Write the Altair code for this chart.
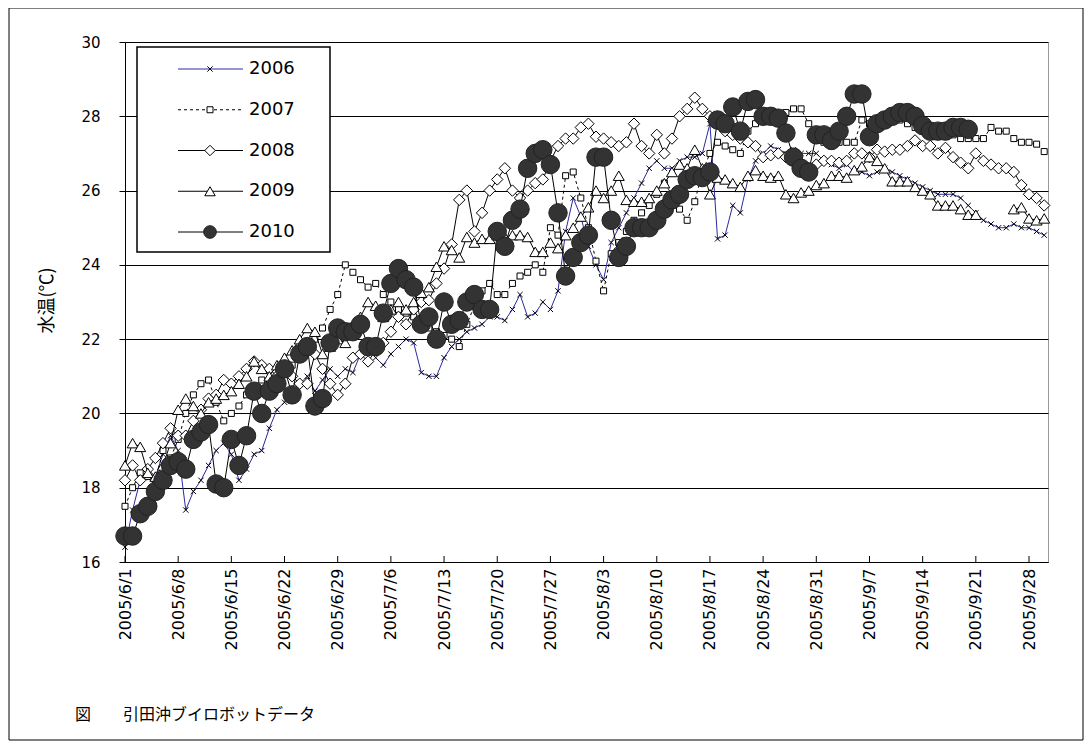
import altair as alt
import pandas as pd

# ---------------- data ----------------
START = "2005-06-01"
N_DAYS = 122
DATES = pd.date_range(START, periods=N_DAYS, freq="D").strftime("%Y-%m-%d").tolist()
TICK_DATES = pd.date_range(START, "2005-09-28", freq="7D").strftime("%Y-%m-%d").tolist()
SERIES_NAMES = ["2006", "2007", "2008", "2009", "2010"]
Y_TICKS = [16, 18, 20, 22, 24, 26, 28, 30]
Y_TITLE = "水温(℃)"
CAPTION = "図\u3000\u3000引田沖ブイロボットデータ"

T2006 = [16.4, 17.4, 18.2, 18.5, 18.3, 18.9, 19.4, 19.0, 17.4, 17.9,
         18.2, 18.6, 19.0, 19.2, 18.9, 18.2, 18.5, 18.9, 19.0, 19.6,
         20.1, 20.3, 20.6, 20.8, 21.0, 20.6, 20.9, 21.2, 21.0, 21.2,
         21.1, 21.6, 21.7, 21.5, 21.3, 21.6, 21.8, 22.0, 21.9, 21.1,
         21.0, 21.0, 21.5, 21.8, 22.0, 22.2, 22.3, 22.4, 22.6, 22.6,
         22.5, 22.8, 23.2, 22.6, 22.7, 23.0, 22.8, 23.3, 24.9, 25.8,
         25.3, 24.5, 24.0, 23.6, 24.6, 25.0, 25.4, 25.8, 26.2, 26.6,
         26.8, 26.6, 26.6, 26.8, 26.9, 26.9, 27.0, 27.8, 24.7, 24.8,
         25.6, 25.4, 26.3, 26.8, 27.0, 27.2, 27.1, 27.0, 27.1, 27.0,
         27.0, 27.0, 26.8, 26.7, 26.6, 26.7, 26.5, 26.5, 26.4, 26.5,
         26.6, 26.5, 26.4, 26.3, 26.2, 26.1, 26.0, 25.9, 25.9, 25.9,
         25.8, 25.6, 25.4, 25.2, 25.1, 25.0, 25.0, 25.1, 25.0, 25.0,
         24.9, 24.8]

T2007 = [17.5, 18.0, 18.4, 18.3, 18.2, 19.0, 18.8, 19.3, 20.0, 20.5,
         20.8, 20.9, 20.3, 19.8, 20.0, 20.2, 20.5, 20.7, 20.9, 20.8,
         21.0, 21.2, 21.3, 21.5, 21.7, 22.0, 22.3, 22.8, 23.2, 24.0,
         23.8, 23.6, 23.4, 23.5, 23.2, 23.0, 22.8, 22.7, 22.6, 22.4,
         22.3, 22.2, 22.1, 22.0, 21.8, 22.4, 22.9, 23.3, 23.5, 23.2,
         23.2, 23.5, 23.7, 23.8, 24.0, 23.8, 25.0, 24.8, 26.4, 26.5,
         25.8, 25.0, 24.1, 23.3, 24.3, 24.6, 24.9, 25.2, 25.4, 25.6,
         25.9, 26.2, 25.9, 25.5, 25.2, 25.7, 26.5, 27.0, 27.3, 27.2,
         27.1, 27.0, 27.6, 27.8, 27.9, 28.0, 28.0, 28.1, 28.2, 28.2,
         27.8, 27.5, 27.3, 27.2, 27.3, 27.3, 27.3, 27.9, 27.8, 27.7,
         27.8, 27.9, 27.9, 27.8, 27.7, 27.6, 27.5, 27.5, 27.5, 27.5,
         27.4, 27.4, 27.4, 27.4, 27.7, 27.6, 27.6, 27.4, 27.3, 27.3,
         27.25, 27.05]

T2008 = [18.2, 18.6, 18.2, 18.5, 18.8, 19.2, 19.6, 19.4, 19.4, 19.8,
         20.1, 20.4, 20.5, 20.9, 20.8, 21.0, 21.2, 21.4, 21.3, 21.2,
         21.0, 21.3, 21.0, 20.8, 20.8, 21.6, 21.2, 20.8, 20.5, 20.8,
         21.5, 21.6, 21.4, 21.7, 21.9, 22.2, 22.6, 22.4, 22.8, 23.0,
         23.05, 23.5, 23.9, 24.55, 25.75, 26.0, 24.9, 25.4, 26.0, 26.3,
         26.6, 26.0, 25.8, 26.0, 26.2, 26.3, 26.8, 27.2, 27.4, 27.4,
         27.7, 27.8, 27.45, 27.4, 27.3, 27.2, 27.3, 27.8, 27.2, 27.0,
         27.5, 27.0, 27.4, 28.0, 28.2, 28.5, 28.2, 28.0, 27.8, 27.6,
         27.5, 27.4, 27.3, 27.2, 26.9, 26.95, 27.0, 26.9, 26.8, 26.7,
         26.6, 26.7, 26.8, 26.8, 26.75, 26.8, 27.0, 27.0, 26.9, 27.1,
         27.05, 27.1, 27.1, 27.2, 27.35, 27.2, 27.2, 27.0, 27.15, 26.9,
         26.75, 26.6, 27.0, 26.8, 26.7, 26.6, 26.6, 26.5, 26.15, 25.9,
         25.8, 25.6]

T2009 = [18.6, 19.2, 19.1, 18.4, 18.3, 18.6, 19.2, 20.1, 20.4, 20.2,
         20.0, 20.3, 20.4, 20.5, 20.6, 20.8, 21.0, 21.4, 21.2, 21.0,
         21.3, 21.5, 21.7, 22.0, 22.3, 22.2, 21.6, 21.8, 22.0, 21.9,
         22.2, 22.6, 23.0, 22.9, 22.6, 22.8, 23.0, 22.8, 23.0, 23.25,
         23.4, 23.95, 24.5, 24.4, 24.2, 24.75, 24.6, 24.7, 24.7, 24.8,
         24.75, 24.8, 24.8, 24.75, 24.35, 24.35, 24.6, 24.45, 24.8, 25.0,
         25.3, 25.55, 26.0, 25.8, 26.0, 26.4, 25.75, 25.7, 25.7, 25.8,
         26.0, 26.2, 26.5, 26.7, 26.6, 27.1, 26.6, 25.9, 26.35, 26.3,
         26.2, 26.1, 26.4, 26.55, 26.4, 26.35, 26.4, 25.9, 25.8, 25.95,
         26.0, 26.15, 26.2, 26.4, 26.4, 26.35, 26.55, 26.65, 26.9, 26.8,
         26.6, 26.25, 26.25, 26.25, 26.1, 26.0, 25.9, 25.6, 25.6, 25.6,
         25.5, 25.35, 25.35, None, None, None, None, 25.5, 25.55, 25.25,
         25.2, 25.25]

T2010 = [16.7, 16.7, 17.3, 17.5, 17.9, 18.2, 18.6, 18.7, 18.5, 19.3,
         19.5, 19.7, 18.1, 18.0, 19.3, 18.6, 19.4, 20.6, 20.0, 20.6,
         20.8, 21.2, 20.5, 21.6, 21.8, 20.2, 20.4, 21.9, 22.3, 22.2,
         22.2, 22.4, 21.8, 21.8, 22.7, 23.5, 23.9, 23.6, 23.4, 22.4,
         22.6, 22.0, 23.0, 22.4, 22.5, 23.0, 23.2, 22.8, 22.8, 24.9,
         24.5, 25.2, 25.5, 26.6, 27.0, 27.1, 26.7, 25.4, 23.7, 24.2,
         24.6, 24.8, 26.9, 26.9, 25.2, 24.2, 24.5, 25.0, 25.0, 25.0,
         25.2, 25.5, 25.75, 25.9, 26.3, 26.4, 26.35, 26.5, 27.9, 27.8,
         28.25, 27.6, 28.4, 28.45, 28.0, 28.0, 27.95, 27.55, 26.9, 26.6,
         26.5, 27.5, 27.5, 27.35, 27.6, 28.0, 28.6, 28.6, 27.45, 27.8,
         27.9, 28.0, 28.1, 28.1, 28.0, 27.75, 27.6, 27.6, 27.6, 27.7,
         27.7, 27.65, None, None, None, None, None, None, None, None,
         None, None]

SERIES_VALUES = [T2006, T2007, T2008, T2009, T2010]

# ---------------- styles ----------------
W, H = 923, 520
X_SHAPE = "M-1,-1L1,1M1,-1L-1,1"
STYLES = {
    "2006": dict(line="#2a2aa0", dash=None, shape=X_SHAPE, size=28, fill=None, stroke="#000", sw=1, lsize=28),
    "2007": dict(line="#000", dash=[3, 3], shape="square", size=36, fill="white", stroke="#000", sw=1, lsize=36),
    "2008": dict(line="#000", dash=None, shape="diamond", size=130, fill="white", stroke="#000", sw=1, lsize=110),
    "2009": dict(line="#000", dash=None, shape="triangle-up", size=120, fill="white", stroke="#000", sw=1, lsize=110),
    "2010": dict(line="#000", dash=None, shape="circle", size=340, fill="#333333", stroke="#222222", sw=1, lsize=160),
}

def ms(s):
    return int(pd.Timestamp(s, tz="UTC").value // 10**6)

x_domain = [ms(START), ms("2005-09-30 12:00")]
x_enc = alt.X(
    "date:T",
    scale=alt.Scale(type="utc", domain=x_domain),
    axis=alt.Axis(
        values=[ms(d) for d in TICK_DATES],
        labelExpr="utcFormat(datum.value, '%Y/%-m/%-d')",
        labelAngle=270,
        labelAlign="right",
        labelBaseline="middle",
        labelPadding=6,
        labelFont="DejaVu Sans",
        labelFontSize=16,
        labelColor="#000",
        labelOverlap=False,
        labelFlush=False,
        ticks=False,
        grid=False,
        domainColor="#000",
        domainWidth=1,
        title=None,
    ),
)
y_enc = alt.Y(
    "temp:Q",
    scale=alt.Scale(domain=[16, 30], nice=False, zero=False),
    axis=alt.Axis(
        values=Y_TICKS,
        grid=True,
        gridColor="#000",
        gridWidth=1,
        domainColor="#000",
        tickColor="#000",
        tickSize=6,
        labelPadding=19,
        labelFont="DejaVu Sans",
        labelFontSize=15,
        labelColor="#000",
        title=Y_TITLE,
        titleFont="Noto Sans CJK JP",
        titleFontSize=18,
        titleFontWeight="normal",
        titleColor="#000",
        titleX=-78,
        titleY=258,
        titleAngle=270,
        titleAlign="center",
        titleBaseline="middle",
    ),
)

layers = []
for name, vals in zip(SERIES_NAMES, SERIES_VALUES):
    st = STYLES[name]
    df = pd.DataFrame({"date": DATES, "temp": vals})
    base = alt.Chart(df).encode(x=x_enc, y=y_enc)
    lkw = dict(color=st["line"], strokeWidth=1)
    if st["dash"]:
        lkw["strokeDash"] = st["dash"]
    layers.append(base.mark_line(**lkw))
    pkw = dict(shape=st["shape"], size=st["size"], stroke=st["stroke"], strokeWidth=st["sw"], opacity=1)
    if st["fill"]:
        pkw.update(filled=True, fill=st["fill"])
    else:
        pkw.update(filled=False)
    layers.append(base.mark_point(**pkw).transform_filter("datum.temp != null"))

# inside x ticks
tick_df = pd.DataFrame({"date": TICK_DATES})
layers.append(
    alt.Chart(tick_df).mark_rule(color="#000", strokeWidth=1).encode(
        x=x_enc, y=alt.value(H - 6), y2=alt.value(H)
    )
)

# legend box
one = pd.DataFrame({"a": [0]})
layers.append(
    alt.Chart(one).mark_rect(fill="white", stroke="#000", strokeWidth=1.5).encode(
        x=alt.value(12), x2=alt.value(205), y=alt.value(5), y2=alt.value(210)
    )
)
LEG_TOP, LEG_STEP = 27, 40.75
for i, name in enumerate(SERIES_NAMES):
    st = STYLES[name]
    ly = LEG_TOP + LEG_STEP * i
    ldf = pd.DataFrame({"name": [name]})
    rkw = dict(color=st["line"], strokeWidth=1)
    if st["dash"]:
        rkw["strokeDash"] = st["dash"]
    layers.append(alt.Chart(ldf).mark_rule(**rkw).encode(
        x=alt.value(53), x2=alt.value(118), y=alt.value(ly)))
    pkw = dict(shape=st["shape"], size=st["lsize"], stroke=st["stroke"], strokeWidth=st["sw"], opacity=1)
    if st["fill"]:
        pkw.update(filled=True, fill=st["fill"])
    else:
        pkw.update(filled=False)
    layers.append(alt.Chart(ldf).mark_point(**pkw).encode(x=alt.value(85), y=alt.value(ly)))
    layers.append(alt.Chart(ldf).mark_text(
        align="left", baseline="middle", font="DejaVu Sans", fontSize=18, color="#000"
    ).encode(x=alt.value(124), y=alt.value(ly), text="name:N"))

# outer frame
layers.append(
    alt.Chart(one).mark_rect(fillOpacity=0, stroke="#000", strokeWidth=1).encode(
        x=alt.value(-116), x2=alt.value(958), y=alt.value(-34), y2=alt.value(698)
    )
)
# caption
cap_df = pd.DataFrame({"t": [CAPTION]})
layers.append(
    alt.Chart(cap_df).mark_text(
        align="left", baseline="middle", font="Noto Sans CJK JP", fontSize=16, color="#000"
    ).encode(x=alt.value(-50), y=alt.value(673), text="t:N")
)

chart = alt.layer(*layers).properties(
    width=W,
    height=H,
    autosize=alt.AutoSizeParams(type="none"),
    padding={"left": 117, "top": 34, "right": 36, "bottom": 179},
    background="white",
).configure_view(stroke="#999", strokeWidth=1)

chart.save("out.html", embed_options={"renderer": "svg", "actions": False})
